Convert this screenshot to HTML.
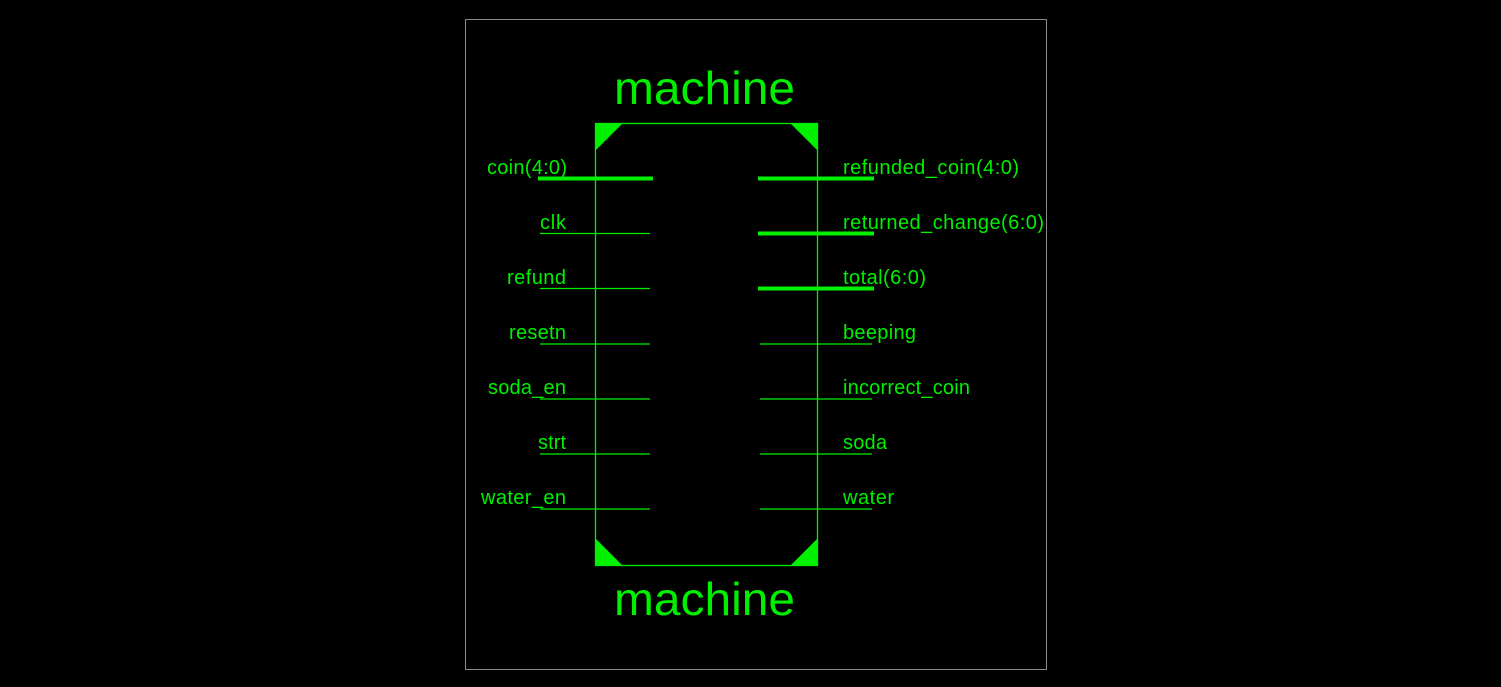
<!DOCTYPE html>
<html><head><meta charset="utf-8"><style>
html,body{margin:0;padding:0;background:#000;}
svg{display:block;}
text{font-family:"Liberation Sans",Arial,sans-serif;fill:#00f000;}
</style></head><body>
<svg width="1501" height="687" viewBox="0 0 1501 687" xmlns="http://www.w3.org/2000/svg">
<rect x="0" y="0" width="1501" height="687" fill="#000"/>
<rect x="465.5" y="19.5" width="581" height="650" fill="none" stroke="#8a8a8a" stroke-width="1"/>
<text x="614" y="104" font-size="46" textLength="181" lengthAdjust="spacingAndGlyphs">machine</text>
<text x="614" y="615" font-size="46" textLength="181" lengthAdjust="spacingAndGlyphs">machine</text>
<rect x="595.5" y="123.5" width="222" height="442" fill="none" stroke="#00f000" stroke-width="1.3"/>
<g fill="#00f000">
<polygon points="595,123 623,123 595,151"/>
<polygon points="818,123 790,123 818,151"/>
<polygon points="595,566 623,566 595,538"/>
<polygon points="818,566 790,566 818,538"/>
</g>
<g stroke="#00f000">
<line x1="538" y1="178.5" x2="653" y2="178.5" stroke-width="4"/>
<line x1="540" y1="233.5" x2="650" y2="233.5" stroke-width="1.3"/>
<line x1="540" y1="288.5" x2="650" y2="288.5" stroke-width="1.3"/>
<line x1="540" y1="344" x2="650" y2="344" stroke-width="1.3"/>
<line x1="540" y1="399" x2="650" y2="399" stroke-width="1.3"/>
<line x1="540" y1="454" x2="650" y2="454" stroke-width="1.3"/>
<line x1="540" y1="509" x2="650" y2="509" stroke-width="1.3"/>
<line x1="758" y1="178.5" x2="874" y2="178.5" stroke-width="4"/>
<line x1="758" y1="233.5" x2="874" y2="233.5" stroke-width="4"/>
<line x1="758" y1="288.5" x2="874" y2="288.5" stroke-width="4"/>
<line x1="760" y1="344" x2="872" y2="344" stroke-width="1.3"/>
<line x1="760" y1="399" x2="872" y2="399" stroke-width="1.3"/>
<line x1="760" y1="454" x2="872" y2="454" stroke-width="1.3"/>
<line x1="760" y1="509" x2="872" y2="509" stroke-width="1.3"/>
</g>
<g font-size="20" lengthAdjust="spacingAndGlyphs">
<text x="487" y="174" textLength="80">coin(4:0)</text>
<text x="540" y="229" textLength="26">clk</text>
<text x="507" y="284" textLength="59">refund</text>
<text x="509" y="339" textLength="57">resetn</text>
<text x="488" y="394" textLength="78">soda_en</text>
<text x="538" y="449" textLength="28">strt</text>
<text x="481" y="504" textLength="85">water_en</text>
<text x="843" y="174" textLength="176">refunded_coin(4:0)</text>
<text x="843" y="229" textLength="201">returned_change(6:0)</text>
<text x="843" y="284" textLength="83">total(6:0)</text>
<text x="843" y="339" textLength="73">beeping</text>
<text x="843" y="394" textLength="127">incorrect_coin</text>
<text x="843" y="449" textLength="44">soda</text>
<text x="843" y="504" textLength="51">water</text>
</g>
</svg>
</body></html>
